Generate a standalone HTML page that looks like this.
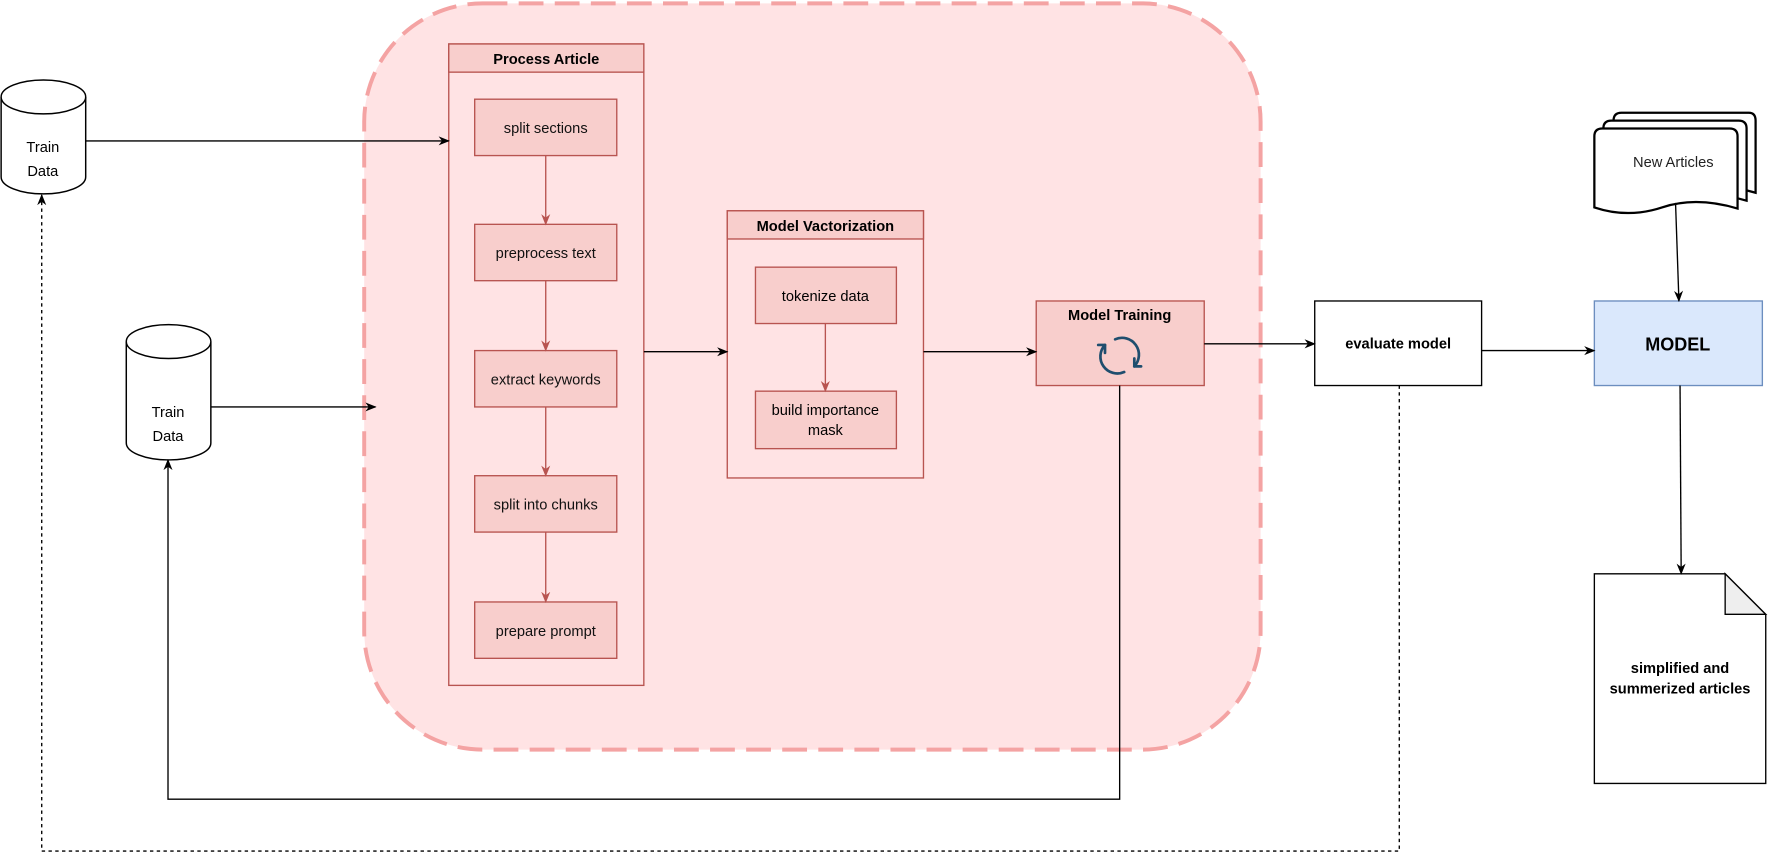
<!DOCTYPE html>
<html><head><meta charset="utf-8"><style>
html,body{margin:0;padding:0;background:#fff;}
svg{display:block;}
text{font-family:"Liberation Sans",Arial,sans-serif;}
</style></head><body>
<svg width="1768" height="868" viewBox="0 0 1568 770" preserveAspectRatio="none" xmlns="http://www.w3.org/2000/svg">
<defs>
<marker id="a" markerWidth="10" markerHeight="10" refX="9" refY="5" orient="auto" markerUnits="userSpaceOnUse"><path d="M0,1 L10,5 L0,9 L3,5 Z" fill="#000"/></marker>
<marker id="r" markerWidth="10" markerHeight="10" refX="9" refY="5" orient="auto" markerUnits="userSpaceOnUse"><path d="M0,1 L10,5 L0,9 L3,5 Z" fill="#b85450"/></marker>
</defs>
<rect x="323" y="3" width="795" height="662" rx="105" fill="#ffe3e4" stroke="#f4a3a3" stroke-width="3.5" stroke-dasharray="22,10"/>

<rect x="398" y="39" width="173" height="569" fill="#ffe3e4" stroke="#b85450" stroke-width="1.2"/>
<rect x="398" y="39" width="173" height="25" fill="#f8cecc" stroke="#b85450" stroke-width="1.2"/>
<text x="484.5" y="57" font-size="13" font-weight="bold" text-anchor="middle">Process Article</text>
<g fill="#f8cecc" stroke="#b85450" stroke-width="1.2">
<rect x="421" y="88" width="126" height="50"/>
<rect x="421" y="199" width="126" height="50"/>
<rect x="421" y="311" width="126" height="50"/>
<rect x="421" y="422" width="126" height="50"/>
<rect x="421" y="534" width="126" height="50"/>
</g>
<g font-size="13" text-anchor="middle" fill="#111">
<text x="484" y="118">split sections</text>
<text x="484" y="229">preprocess text</text>
<text x="484" y="341">extract keywords</text>
<text x="484" y="452">split into chunks</text>
<text x="484" y="564">prepare prompt</text>
</g>
<g stroke="#b85450" stroke-width="1.2" marker-end="url(#r)">
<line x1="484" y1="138" x2="484" y2="199"/>
<line x1="484" y1="249" x2="484" y2="311"/>
<line x1="484" y1="361" x2="484" y2="422"/>
<line x1="484" y1="472" x2="484" y2="534"/>
</g>

<rect x="645" y="187" width="174" height="237" fill="#ffe3e4" stroke="#b85450" stroke-width="1.2"/>
<rect x="645" y="187" width="174" height="25" fill="#f8cecc" stroke="#b85450" stroke-width="1.2"/>
<text x="732" y="205" font-size="13" font-weight="bold" text-anchor="middle">Model Vactorization</text>
<rect x="670" y="237" width="125" height="50" fill="#f8cecc" stroke="#b85450" stroke-width="1.2"/>
<rect x="670" y="347" width="125" height="51" fill="#f8cecc" stroke="#b85450" stroke-width="1.2"/>
<text x="732" y="267" font-size="13" text-anchor="middle">tokenize data</text>
<text x="732" y="368" font-size="13" text-anchor="middle">build importance</text>
<text x="732" y="386" font-size="13" text-anchor="middle">mask</text>
<line x1="732" y1="287" x2="732" y2="347" stroke="#b85450" stroke-width="1.2" marker-end="url(#r)"/>

<rect x="919" y="267" width="149" height="75" fill="#f8cecc" stroke="#b85450" stroke-width="1.2"/>
<text x="993" y="284" font-size="13" font-weight="bold" text-anchor="middle">Model Training</text>
<g fill="none" stroke="#1f4e6e" stroke-width="2.4" stroke-linecap="round">
<path d="M989,301 A15,15 0 0 1 1006,325"/>
<path d="M997,330 A15,15 0 0 1 980,306"/>
<path d="M1006,325 L1012,325 M1006,325 L1006,318"/>
<path d="M980,306 L974,306 M980,306 L980,313"/>
</g>

<rect x="1166" y="267" width="148" height="75" fill="#fff" stroke="#000" stroke-width="1.2"/>
<text x="1240" y="309" font-size="13" font-weight="bold" text-anchor="middle">evaluate model</text>

<rect x="1414" y="267" width="149" height="75" fill="#dae8fc" stroke="#6c8ebf" stroke-width="1.2"/>
<text x="1488" y="311" font-size="16" font-weight="bold" text-anchor="middle">MODEL</text>

<g fill="#fff" stroke="#000" stroke-width="2">
<path d="M1431,107 Q1431,100 1438,100 L1551,100 Q1557,100 1557,107 L1557,171 Q1520,160 1490,170 Q1460,180 1431,170 Z"/>
<path d="M1422,114 Q1422,107 1429,107 L1542,107 Q1549,107 1549,114 L1549,178 Q1512,167 1482,177 Q1452,187 1422,177 Z"/>
<path d="M1414,121 Q1414,114 1421,114 L1534,114 Q1541,114 1541,121 L1541,185 Q1504,174 1474,184 Q1444,194 1414,184 Z"/>
</g>
<text x="1484" y="148" font-size="13" text-anchor="middle" fill="#222">New Articles</text>

<path d="M1414,509 L1530,509 L1566,545 L1566,695 L1414,695 Z" fill="#fff" stroke="#000" stroke-width="1.2"/>
<path d="M1530,509 L1530,545 L1566,545 Z" fill="#eee" stroke="#000" stroke-width="1.2"/>
<text x="1490" y="597" font-size="13" font-weight="bold" text-anchor="middle">simplified and</text>
<text x="1490" y="615" font-size="13" font-weight="bold" text-anchor="middle">summerized articles</text>

<g fill="#fff" stroke="#000" stroke-width="1.3">
<path d="M1,86 L1,157 A37.5,15 0 0 0 76,157 L76,86"/>
<ellipse cx="38.5" cy="86" rx="37.5" ry="15"/>
<path d="M112,303 L112,393 A37.5,15 0 0 0 187,393 L187,303"/>
<ellipse cx="149.5" cy="303" rx="37.5" ry="15"/>
</g>
<g font-size="13" text-anchor="middle">
<text x="38" y="135">Train</text><text x="38" y="156">Data</text>
<text x="149" y="370">Train</text><text x="149" y="391">Data</text>
</g>

<g stroke="#000" stroke-width="1.2" fill="none" marker-end="url(#a)">
<line x1="76" y1="125" x2="398" y2="125"/>
<line x1="187" y1="361" x2="333" y2="361"/>
<line x1="571" y1="312" x2="645" y2="312"/>
<line x1="819" y1="312" x2="919" y2="312"/>
<line x1="1068" y1="305" x2="1166" y2="305"/>
<line x1="1314" y1="311" x2="1414" y2="311"/>
<line x1="1486" y1="180" x2="1489" y2="267"/>
<line x1="1490" y1="342" x2="1491" y2="509"/>
<polyline points="993,342 993,709 149,709 149,408"/>
<polyline points="1241,342 1241,755 37,755 37,173" stroke-dasharray="3,3"/>
</g>
</svg>
</body></html>
